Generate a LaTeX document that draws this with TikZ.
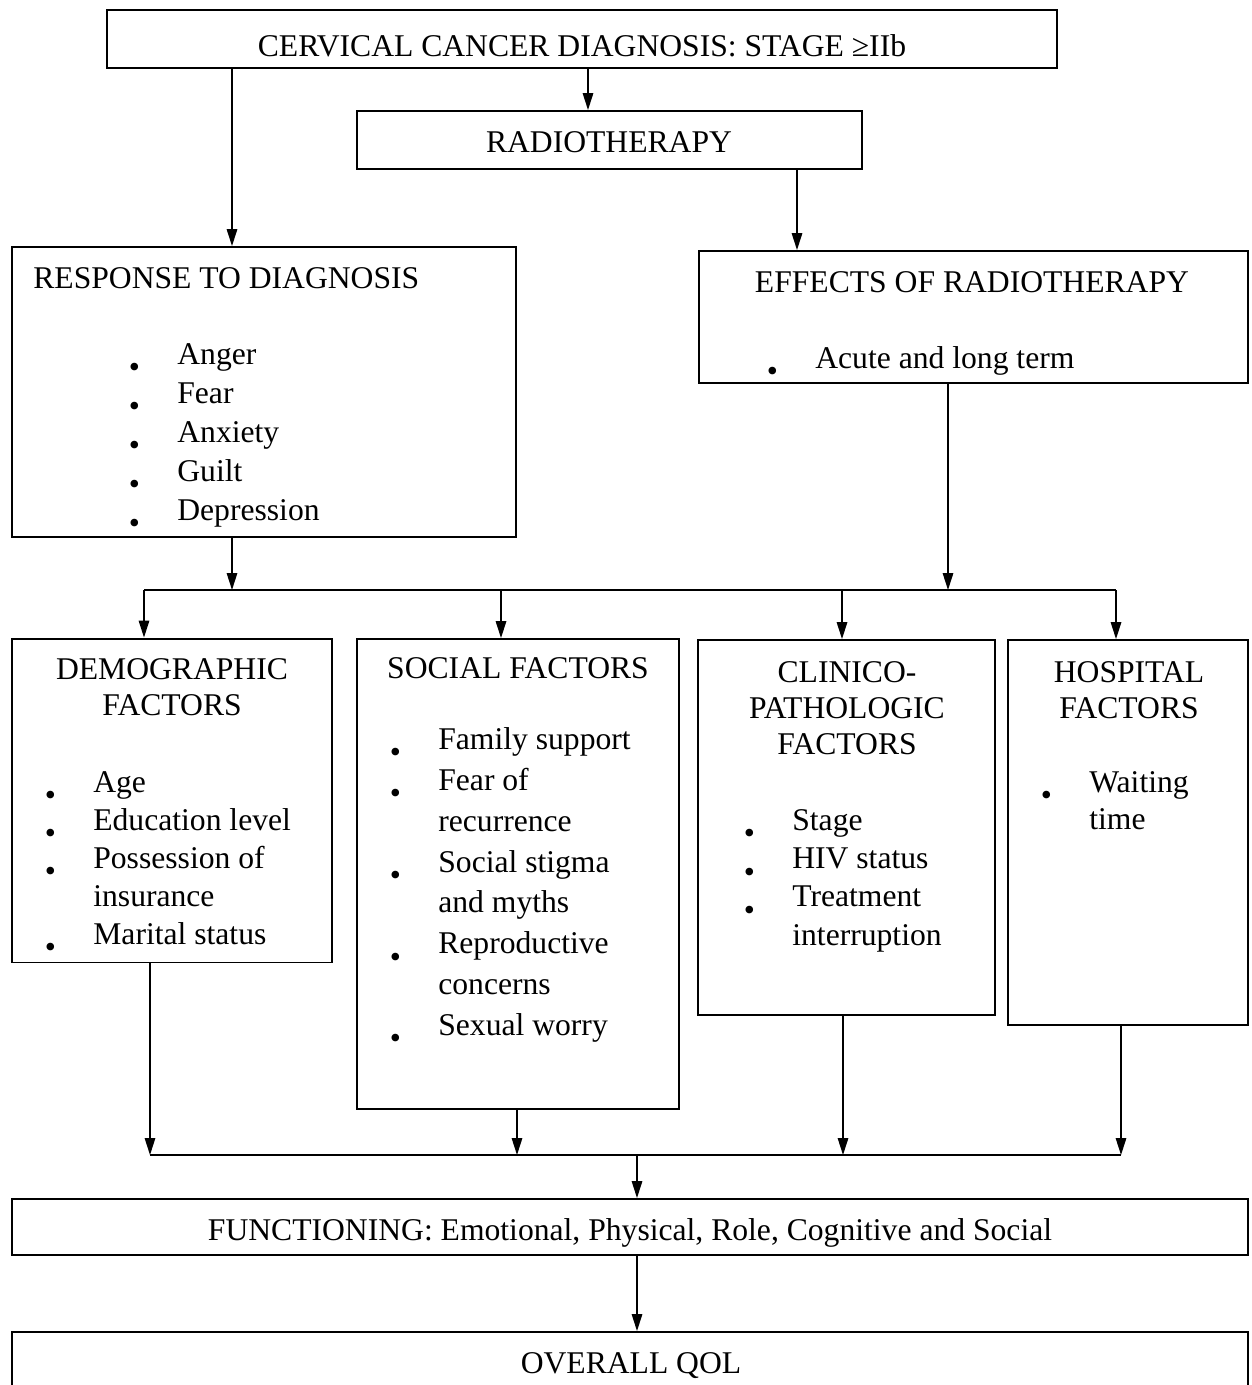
\documentclass[tikz,border=0pt]{standalone}
\usepackage{fontspec}
\setmainfont{Liberation Serif}
\usepackage{tikz}
\usetikzlibrary{arrows.meta,positioning}

\newcommand\itm{\strut\llap{\makebox[0pt][c]{\raisebox{-7.6pt}[0pt][0pt]{\fontsize{18pt}{18pt}\selectfont\textbullet}}\hspace{0.86cm}}}

\tikzset{
  box/.style={draw, line width=1.1pt, inner sep=0pt},
  txt/.style={anchor=base, inner sep=0pt},
  ttl/.style={anchor=north, align=center, inner sep=0pt, font=\fontsize{18pt}{#1}\selectfont, yshift={0.7*#1}},
  lst/.style={anchor=north west, align=left, inner sep=0pt, font=\fontsize{18pt}{#1}\selectfont, yshift={0.7*#1}},
}

\begin{document}
\begin{tikzpicture}[x=0.02cm,y=-0.02cm,>={Triangle[length=0.34cm,width=0.21cm]},
    every node/.append style={font=\fontsize{18pt}{22pt}\selectfont}]
    \useasboundingbox (0,0) rectangle (1251,1385);
    \clip (0,0) rectangle (1251,1385);
    % boxes
    \node[box, minimum width=19cm, minimum height=1.16cm] (diag) at (582,39) {};
    \node[box, minimum width=10.1cm, minimum height=1.16cm] (radio) at (609.5,140) {};
    \node[box, minimum width=10.08cm, minimum height=5.8cm] (resp) at (264,392) {};
    \node[box, minimum width=10.98cm, minimum height=2.64cm] (effects) at (973.5,317) {};
    \node[box, minimum width=6.4cm, minimum height=6.48cm] (demo) at (172,800.5) {};
    \node[box, minimum width=6.44cm, minimum height=9.4cm] (social) at (518,874) {};
    \node[box, minimum width=5.94cm, minimum height=7.5cm] (clinico) at (846.5,827.5) {};
    \node[box, minimum width=4.8cm, minimum height=7.7cm] (hospital) at (1128,832.5) {};
    \node[box, minimum width=24.72cm, minimum height=1.12cm] (func) at (630,1227) {};
    \node[box, minimum width=24.72cm, minimum height=1.24cm] (overall) at (630,1363) {};
    %
    \node[txt] (diag_t) at (582,57) {CERVICAL CANCER DIAGNOSIS: STAGE ≥IIb};
    \node[txt] (radio_t) at (609,153) {RADIOTHERAPY};
    \node[txt, anchor=base west] (resp_t) at (33,289) {RESPONSE TO DIAGNOSIS};
    \node[lst=22.19pt] (resp_l) at (177,364) {\itm Anger\\ \itm Fear\\ \itm Anxiety\\ \itm Guilt\\ \itm Depression};
    \node[txt] (effects_t) at (972,293) {EFFECTS OF RADIOTHERAPY};
    \node[lst=22pt] (effects_l) at (815,368) {\itm Acute and long term};
    %
    \node[ttl=20.5pt] (demo_t) at (172,679) {\strut DEMOGRAPHIC\\ FACTORS};
    \node[lst=21.62pt] (demo_l) at (93,792) {\itm Age\\ \itm Education level\\ \itm Possession of\\ insurance\\ \itm Marital status};
    \node[ttl=20.5pt] (social_t) at (518,678) {\strut SOCIAL FACTORS};
    \node[lst=23.27pt] (social_l) at (438,749) {\itm Family support\\ \itm Fear of\\ recurrence\\ \itm Social stigma\\ and myths\\ \itm Reproductive\\ concerns\\ \itm Sexual worry};
    \node[ttl=20.5pt] (clinico_t) at (847,682) {\strut CLINICO-\\ PATHOLOGIC\\ FACTORS};
    \node[lst=21.8pt] (clinico_l) at (792,830) {\itm Stage\\ \itm HIV status\\ \itm Treatment\\ interruption};
    \node[ttl=20.5pt] (hospital_t) at (1129,682) {\strut HOSPITAL\\ FACTORS};
    \node[lst=21.05pt] (hospital_l) at (1089,792) {\itm Waiting\\ time};
    %
    \node[txt] (func_t) at (630,1240) {FUNCTIONING: Emotional, Physical, Role, Cognitive and Social};
    \node[txt] (overall_t) at (631,1373) {OVERALL QOL};
    % connectors
    \coordinate (split) at (0,590);
    \coordinate (merge) at (0,1155);
    \begin{scope}[line width=0.85pt]
    \draw[->] (588,0 |- diag.south) -- (588,0 |- radio.north);
    \draw[->] (232,0 |- diag.south) -- (232,0 |- resp.north);
    \draw[->] (797,0 |- radio.south) -- (797,0 |- effects.north);
    \draw[->] (232,0 |- resp.south) -- (232,0 |- split);
    \draw[->] (948,0 |- effects.south) -- (948,0 |- split);
    \draw (144,0 |- split) -- (1116,0 |- split);
    \draw[->] (144,0 |- split) -- (144,0 |- demo.north);
    \draw[->] (501,0 |- split) -- (501,0 |- social.north);
    \draw[->] (842,0 |- split) -- (842,0 |- clinico.north);
    \draw[->] (1116,0 |- split) -- (1116,0 |- hospital.north);
    %
    \draw[->] (150,0 |- demo.south) -- (150,0 |- merge);
    \draw[->] (517,0 |- social.south) -- (517,0 |- merge);
    \draw[->] (843,0 |- clinico.south) -- (843,0 |- merge);
    \draw[->] (1121,0 |- hospital.south) -- (1121,0 |- merge);
    \draw (150,0 |- merge) -- (1121,0 |- merge);
    \draw[->] (637,0 |- merge) -- (637,0 |- func.north);
    \draw[->] (637,0 |- func.south) -- (637,0 |- overall.north);
    \end{scope}
\end{tikzpicture}
\end{document}
